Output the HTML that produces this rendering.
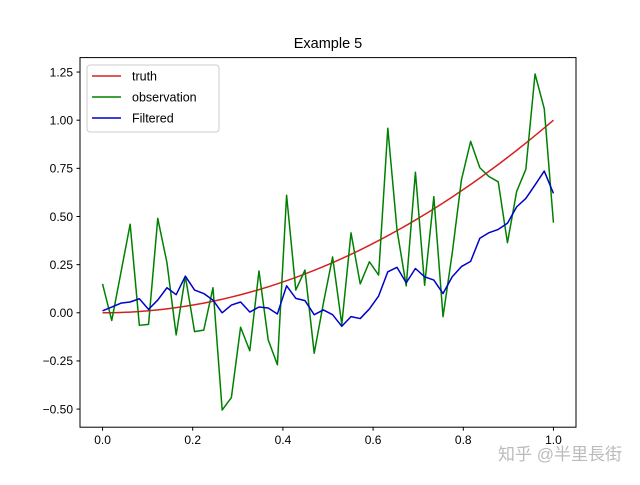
<!DOCTYPE html>
<html><head><meta charset="utf-8"><style>
body{margin:0;background:#fff}
svg text{font-family:"Liberation Sans","DejaVu Sans","Noto Sans CJK SC",sans-serif}
</style></head><body>
<svg id="chart" width="640" height="480" xmlns="http://www.w3.org/2000/svg">
<rect width="640" height="480" fill="#fff"/>
<text x="328" y="48" text-anchor="middle" font-size="14.5">Example 5</text>
<g id="plot"></g>
<rect x="80" y="57.6" width="496" height="369.6" fill="none" stroke="#000" stroke-width="1"/>
<g>
<rect x="87" y="65" width="132" height="67" rx="3" fill="#fff" fill-opacity="0.8" stroke="#ccc"/>
<line x1="92" y1="76" x2="121" y2="76" stroke="#d62020" stroke-width="1.5"/>
<text x="132" y="80.5" font-size="12.5">truth</text>
<line x1="92" y1="97" x2="121" y2="97" stroke="#008000" stroke-width="1.5"/>
<text x="132" y="101.5" font-size="12.5">observation</text>
<line x1="92" y1="118" x2="121" y2="118" stroke="#0000cc" stroke-width="1.5"/>
<text x="132" y="122.5" font-size="12.5">Filtered</text>
</g>
<text x="622" y="460" text-anchor="end" font-size="17" fill="#bbb">知乎 @半里長街</text>
</svg>
<script>
const xTicks=[0,0.2,0.4,0.6,0.8,1.0];
const xTickLabels=["0.0","0.2","0.4","0.6","0.8","1.0"];
const yTicks=[-0.5,-0.25,0,0.25,0.5,0.75,1.0,1.25];
const yTickLabels=["−0.50","−0.25","0.00","0.25","0.50","0.75","1.00","1.25"];
const nPoints=50;
const observation=[0.15,-0.04,0.21,0.46,-0.065,-0.06,0.49,0.26,-0.115,0.19,-0.098,-0.09,0.13,-0.505,-0.44,-0.075,-0.197,0.217,-0.14,-0.27,0.61,0.118,0.222,-0.21,0.05,0.29,-0.06,0.415,0.15,0.265,0.196,0.958,0.43,0.14,0.73,0.143,0.603,-0.02,0.31,0.69,0.89,0.753,0.707,0.68,0.364,0.63,0.745,1.24,1.06,0.468];
const filtered=[0.01,0.03,0.05,0.056,0.073,0.018,0.066,0.13,0.094,0.19,0.118,0.1,0.066,0.0,0.04,0.056,0.004,0.03,0.025,-0.006,0.14,0.075,0.063,-0.01,0.015,-0.01,-0.07,-0.02,-0.03,0.02,0.087,0.213,0.236,0.156,0.23,0.187,0.17,0.1,0.187,0.24,0.267,0.387,0.416,0.433,0.465,0.55,0.594,0.664,0.736,0.62];
const NS="http://www.w3.org/2000/svg";
const X0=80,X1=576,Y0=57.6,Y1=427.2,xmin=-0.05,xmax=1.05,ymin=-0.594,ymax=1.325;
function sx(v){return X0+(v-xmin)/(xmax-xmin)*(X1-X0);}
function sy(v){return Y1-(v-ymin)/(ymax-ymin)*(Y1-Y0);}
const g=document.getElementById('plot');
function mk(t,a){const e=document.createElementNS(NS,t);for(const k in a)e.setAttribute(k,a[k]);g.appendChild(e);return e;}
xTicks.forEach((v,i)=>{
 const l=mk('line',{x1:sx(v),x2:sx(v),y1:Y1,y2:Y1+3.5,stroke:'#000'});
 
 
 const t=mk('text',{x:sx(v),y:Y1+17,'text-anchor':'middle','font-size':'12'});
 t.textContent=xTickLabels[i];
 
 
});
yTicks.forEach((v,i)=>{
 const l=mk('line',{x1:X0-3.5,x2:X0,y1:sy(v),y2:sy(v),stroke:'#000'});
 
 
 const t=mk('text',{x:X0-7,y:sy(v)+4.3,'text-anchor':'end','font-size':'12'});
 t.textContent=yTickLabels[i];
 
 
});
const xs=[];for(let i=0;i<nPoints;i++)xs.push(i/(nPoints-1));
function pts(arr){return arr.map((v,i)=>sx(xs[i]).toFixed(2)+','+sy(v).toFixed(2)).join(' ');}
const truth=xs.map(x=>x*x);
const p1=mk('polyline',{points:pts(truth),fill:'none',stroke:'#d62020','stroke-width':1.5});


const p2=mk('polyline',{points:pts(observation),fill:'none',stroke:'#008000','stroke-width':1.5,'stroke-linejoin':'round'});


const p3=mk('polyline',{points:pts(filtered),fill:'none',stroke:'#0000cc','stroke-width':1.5,'stroke-linejoin':'round'});


</script>
</body></html>
